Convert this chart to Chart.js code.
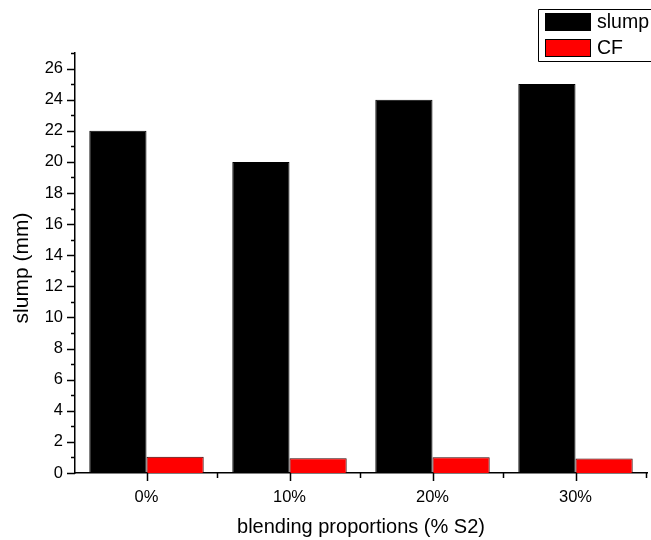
<!DOCTYPE html>
<html>
<head>
<meta charset="utf-8">
<script src="https://cdn.jsdelivr.net/npm/chart.js@4.4.1/dist/chart.umd.min.js"></script>
<style>
  html, body { margin: 0; padding: 0; background: #ffffff; }
  #wrap { width: 651px; height: 540px; position: relative; overflow: hidden; }
</style>
</head>
<body>
<div id="wrap"><canvas id="c" width="651" height="540"></canvas></div>
<script>
// Blending proportions of S2 and the measured slump / compacting factor
const categories = ['0%', '10%', '20%', '30%'];
const slumpValues = [22, 20, 24, 25];
const cfValues = [1.05, 0.95, 1.02, 0.93];
const yTickValues = [0, 2, 4, 6, 8, 10, 12, 14, 16, 18, 20, 22, 24, 26];
const yMax = 27;
const yTitle = 'slump (mm)';

const FONT = 'Arial, "Liberation Sans", sans-serif';

// Tick marks drawn outward: long at labelled positions, short in between
const tickMarks = {
  id: 'tickMarks',
  afterDraw(chart) {
    const ctx = chart.ctx;
    const x = chart.scales.x, y = chart.scales.y;
    const area = chart.chartArea;
    ctx.save();
    ctx.strokeStyle = '#000';
    ctx.lineWidth = 1.5;
    ctx.beginPath();
    for (let v = 0; v <= yMax; v += 1) {
      const py = Math.round(y.getPixelForValue(v)) + 0.5;
      const len = yTickValues.includes(v) ? 8 : 4;
      ctx.moveTo(area.left, py);
      ctx.lineTo(area.left - len, py);
    }
    const n = categories.length;
    const w = (area.right - area.left) / n;
    for (let i = 0; i < n; i++) {
      const px = Math.round(x.getPixelForValue(i)) + 0.5;
      ctx.moveTo(px, area.bottom);
      ctx.lineTo(px, area.bottom + 8);
      const bx = Math.round(area.left + w * (i + 1)) - 0.5;
      ctx.moveTo(bx, area.bottom);
      ctx.lineTo(bx, area.bottom + 5);
    }
    ctx.stroke();

    // vertical axis title, sitting slightly below the plot's middle
    ctx.fillStyle = '#000';
    ctx.font = '21px ' + FONT;
    ctx.textAlign = 'center';
    ctx.textBaseline = 'middle';
    ctx.translate(22, (area.top + area.bottom) / 2 + 5);
    ctx.rotate(-Math.PI / 2);
    ctx.fillText(yTitle, 0, 0);
    ctx.restore();
  }
};

// Boxed legend in the upper right corner; its frame runs off the right edge
const boxLegend = {
  id: 'boxLegend',
  afterDraw(chart) {
    const ctx = chart.ctx;
    const W = chart.width;
    ctx.save();
    ctx.strokeStyle = '#000';
    ctx.lineWidth = 1;
    ctx.beginPath();
    ctx.moveTo(W, 9.5);
    ctx.lineTo(538.5, 9.5);
    ctx.lineTo(538.5, 61.5);
    ctx.lineTo(W, 61.5);
    ctx.stroke();
    const rows = [13, 39];
    chart.data.datasets.forEach((ds, i) => {
      const top = rows[i];
      ctx.fillStyle = ds.backgroundColor;
      ctx.fillRect(545, top, 46, 18);
      ctx.strokeStyle = '#000';
      ctx.strokeRect(545.5, top + 0.5, 45, 17);
      ctx.fillStyle = '#000';
      ctx.font = '19.5px ' + FONT;
      ctx.textBaseline = 'middle';
      ctx.textAlign = 'left';
      ctx.fillText(ds.label, 597, top + 10);
    });
    ctx.restore();
  }
};

new Chart(document.getElementById('c'), {
  type: 'bar',
  data: {
    labels: categories,
    datasets: [
      { label: 'slump', data: slumpValues, backgroundColor: '#000000', borderColor: '#000000', borderWidth: 1 },
      { label: 'CF', data: cfValues, backgroundColor: '#ff0000', borderColor: '#330000', borderWidth: 1 }
    ]
  },
  options: {
    responsive: false,
    animation: false,
    devicePixelRatio: 1,
    layout: { padding: { top: 53, right: 4, bottom: 0, left: 0 } },
    datasets: { bar: { categoryPercentage: 0.8, barPercentage: 1.0 } },
    plugins: {
      legend: { display: false },
      tooltip: { enabled: false }
    },
    scales: {
      x: {
        offset: true,
        grid: { display: false, drawTicks: false },
        border: { display: true, color: '#000', width: 1.5 },
        ticks: { color: '#000', font: { family: FONT, size: 16.5 }, padding: 15, maxRotation: 0 },
        title: { display: true, text: 'blending proportions (% S2)', color: '#000', font: { family: FONT, size: 20 }, padding: { top: 0, bottom: 1 } },
        afterFit(scale) { scale.height = 67; }
      },
      y: {
        min: 0,
        max: yMax,
        grid: { display: false, drawTicks: false },
        border: { display: true, color: '#000', width: 1.5 },
        ticks: { color: '#000', font: { family: FONT, size: 16.5 }, padding: 12 },
        afterBuildTicks(scale) { scale.ticks = yTickValues.map(v => ({ value: v })); },
        title: { display: false },
        afterFit(scale) { scale.width = 75; }
      }
    }
  },
  plugins: [tickMarks, boxLegend]
});
</script>
</body>
</html>
